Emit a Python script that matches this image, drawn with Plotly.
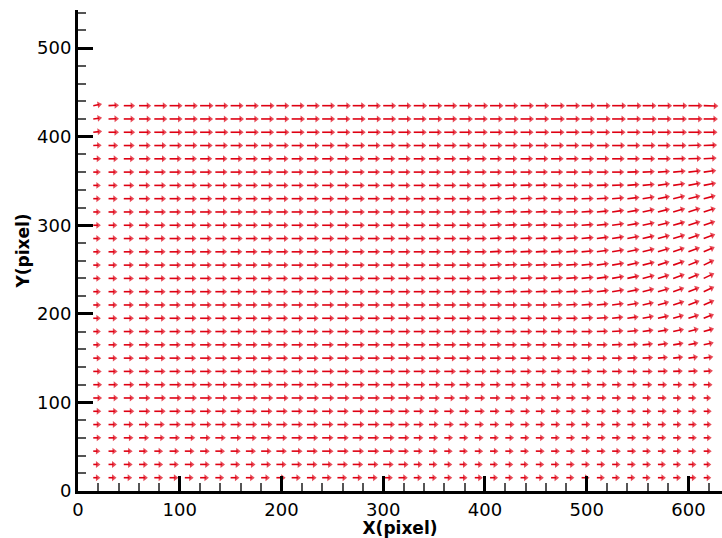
import plotly.graph_objects as go

# grid positions (pixel coordinates of the vector tails)
x_cols = [15, 30, 45, 60, 75, 90, 105, 120, 135, 150, 165, 180, 195, 210, 225, 240, 255, 270, 285, 300,
          315, 330, 345, 360, 375, 390, 405, 420, 435, 450, 465, 480, 495, 510, 525, 540, 555, 570, 585, 600, 615]
y_rows = [435, 420, 405, 390, 375, 360, 345, 330, 315, 300, 285, 270, 255, 240, 225,
          210, 195, 180, 165, 150, 135, 120, 105, 90, 75, 60, 45, 30, 15]

# horizontal displacement, one list per row (top row first)
U = [
    [7,9,10,11,12,12,12,12.5,12,12, 12,12.5,12,12,12,12,12.5,12,12,12, 12,12.5,12.5,12,12,12.5,12.5,12,12.5,12.5, 13,13,13,13,13.5,13.5,13,13.5,13.5,13.5, 14],
    [7,9,10,11,12,12,12,12,12,12.5, 12,12,12,12.5,12,12,12,12,12.5,12, 12,12,12.5,12,12.5,12,12,12.5,12.5,12.5, 13,13,12.5,13,13,13,13.5,13,13,13.5, 13.5],
    [7,9,10,11,11.5,12,12,12,12,12, 12,12,12,12,12,12,12,12,12,12, 12,12,12,12,12,12,12,12,12,12.5, 12.5,12.5,12.5,12.5,12.5,12.5,13,13,13,13, 13],
    [6.5,8,9.5,10.5,11,11.5,11.5,11.5,11.5,11.5, 11.5,11.5,11.5,11.5,11.5,11.5,11.5,11.5,11.5,11.5, 11.5,11.5,11.5,11.5,11.5,11.5,11.5,11.5,12,12, 12,12,12,12,12,12,12,12,12.5,12.5, 12.5],
    [6,8,9.5,10.5,11,11,11,11,11,11, 11,11,11,11,11,11,11,11,11,11, 11,11,11,11,11,11,11,11,11.5,11.5, 11.5,11.5,11.5,11.5,11.5,11.5,11.5,12,12,12, 12],
    [5.5,7.5,9,10,10.5,11,11,11,11,11, 11,11,11,11,11,11,11,11,11,11, 11,11,11,11,11,11,11,11,11,11, 11,11,11,11,11,11,11,11,11.5,11.5, 11.5],
    [5.5,7.5,9,10,10.5,11,11,11,11,11, 11,11,11,11,11,11,11,11,11,11, 11,11,11,11,11,11,11,11,11,11, 11,11,11,11,11,11,11,11,11,11.5, 11.5],
    [5.5,7.5,9,10,10.5,10.5,11,11,11,11, 11,11,11,11,11,11,11,11,11,11, 11,11,11,11,11,11,11,11,11,11, 11,11,11,11,11,11,11,11,11,11, 11],
    [5.5,7,8.5,10,10.5,10.5,10.5,11,11,11, 11,11,11,11,11,11,11,11,11,11, 11,11,11,11,11,11,11,11,11,11, 11,11,11,11,11,11,11,11,11,11, 11],
    [5.5,7,8.5,9.5,10,10.5,10.5,10.5,11,11, 11,11,11,11,11,11,11,11,11,11, 11,11,11,11,11,11,11,11,11,11, 11,11,11,11,11,11,11,11,11,11, 10.5],
    [5.5,7,8.5,9.5,10,10.5,10.5,10.5,10.5,11, 11,11,11,11,11,11,11,11,11,11, 11,11,11,11,11,11,11,11,11,11, 11,11,11,11,11,11,11,11,11,10.5, 10.5],
    [5.5,7,8.5,9.5,10,10.5,10.5,10.5,10.5,10.5, 10.5,11,11,11,11,11,11,11,11,11, 11,11,11,11,11,11,11,11,11,11, 11,11,11,11,11,11,11,11,10.5,10.5, 10],
    [5.5,7,8.5,9.5,10,10.5,10.5,10.5,10.5,10.5, 10.5,10.5,11,11,11,11,11,11,11,11, 11,11,11,11,11,11,11,11,11,11, 11,11,11,11,11,11,11,10.5,10.5,10, 9.5],
    [5.5,7,8.5,9.5,10,10.5,10.5,10.5,10.5,10.5, 10.5,10.5,10.5,11,11,11,11,11,11,11, 11,11,11,11,11,11,11,11,11,11, 11,11,11,11,11,11,11,10.5,10.5,10, 9.5],
    [5.5,7,8.5,9.5,10,10.5,10.5,10.5,10.5,10.5, 10.5,10.5,10.5,11,11,11,11,11,11,11, 11,11,11,11,11,11,11,11,11,11, 11,11,11,11,11,11,10.5,10.5,10,10, 9.5],
    [5.5,7,8.5,9.5,10,10,10.5,10.5,10.5,10.5, 10.5,10.5,10.5,10.5,11,11,11,11,11,11, 11,11,11,11,11,11,11,11,10.5,10.5, 10.5,10.5,10.5,10.5,10.5,10.5,10,10,10,10, 9.5],
    [5.5,7,8.5,9.5,10,10,10.5,10.5,10.5,10.5, 10.5,10.5,10.5,10.5,10.5,11,11,11,11,11, 11,11,11,11,11,11,11,10.5,10.5,10.5, 10.5,10.5,10.5,10.5,10,10,10,10,9.5,9.5, 9],
    [5.5,7,8.5,9.5,10,10,10,10.5,10.5,10.5, 10.5,10.5,10.5,10.5,10.5,10.5,11,11,11,11, 11,11,11,11,11,11,10.5,10.5,10.5,10.5, 10,10,10,10,10,10,9.5,9.5,9.5,9, 9],
    [5.5,7,8.5,9.5,10,10,10,10.5,10.5,10.5, 10.5,10.5,10.5,10.5,10.5,10.5,11,11,11,11, 11,11,11,11,11,10.5,10.5,10.5,10,10, 10,10,9.5,9.5,9.5,9.5,9,9,9,8.5, 8.5],
    [6,7,8.5,9.5,10,10,10,10.5,10.5,10.5, 10.5,10.5,10.5,10.5,10.5,10.5,11,11,11,11, 11,11,11,11,10.5,10.5,10.5,10,10,10, 9.5,9.5,9.5,9,9,9,9,8.5,8.5,8, 8],
    [6.5,7.5,8.5,9.5,10,10,10.5,10.5,10.5,10.5, 10.5,10.5,10.5,10.5,10.5,11,11,11,11,11, 11,11,10.5,10.5,10.5,10.5,10,10,10,9.5, 9.5,9.5,9,9,9,8.5,8.5,8.5,8,8, 7.5],
    [7,8,9,10,10,11,11,11,11,11, 11,11,11,11,11,11,11,11,11,11, 11,10.5,10,10,10,9.5,9.5,9.5,9,9, 9,8.5,8.5,8.5,8,8,8,7.5,7.5,7, 7],
    [7,8,9,10,10.5,11,11,11,11,11, 11,11,11,11,11,11,11,11,11,11, 11,10,9.5,9.5,9,9,9,9,8.5,8.5, 8.5,8,8,8,7.5,7.5,7,7,6.5,6, 5.5],
    [6,7.5,9,10,10,10,10,10,10,10, 10,10,10,10,10,10,10,10.5,10.5,10.5, 10,9,8.5,8.5,8.5,8.5,8,8,8,8, 8,8,7.5,7.5,7.5,7,7,7,6.5,6.5, 6],
    [6,7,8,9,9,10,10,10,10,10, 10,10,10,10,10,10,10,10.5,10.5,10.5, 10,8.5,8,8,8,7.5,7.5,7.5,7.5,7.5, 7.5,7.5,7,7,7,7,7,6.5,6.5,6.5, 6],
    [6,7,8,8.5,9,9,9,9,9,9.5, 9.5,9.5,9.5,10,10,10,10,10,10,10, 9.5,8,7.5,7,7,7,7,7,7,7, 7,7,7,7,7,7,6.5,6.5,6.5,6.5, 6],
    [5,6.5,7,7,7,8,8,8,8,8.5, 8.5,9,9,9.5,9.5,10,10,10,10,10, 9,7.5,7,6.5,6.5,6.5,6.5,6.5,6.5,7, 7,7,7,7,7,7,6.5,6.5,6.5,6, 6],
    [5,6,7,7,7,7.5,8,8,8,8, 8,8.5,8.5,9,9,9,9,9,9,9, 8.5,7,6.5,6,6,6,6,6,6,6.5, 6.5,6.5,6.5,6.5,6.5,6.5,6.5,6,6,6, 5.5],
    [5,6,6.5,7,7,7,7,7,7,7, 7,7,7.5,7.5,8,8,8,8,8,8, 7.5,6.5,6,6,6,6,6,6,6,6, 6,6,6,6,6,6,6,6,6,6, 5.5],
]

# vertical displacement, one list per row (top row first)
V = [
    [1.5,0.5,0,0,0,0,0,0,0,0, 0,0,0,0,0,0,0,0,0,0, 0,0,0,0,0,0,0,0,0,0, 0,0,0,0,0,0,0,0,0,0, -0.5],
    [1.0,0.3,0,0,0,0,0,0,0,0, 0,0,0,0,0,0,0,0,0,0, 0,0,0,0,0,0,0,0,0,0, 0,0,0,0,0,0,0,0,0,0, 0],
    [0.8,0,0,0,0,0,0,0,0,0, 0,0,0,0,0,0,0,0,0,0, 0,0,0,0,0,0,0,0,0,0, 0,0,0,0,0,0,0,0,0,0, 0],
    [0.3,0,0,0,0,0,0,0,0,0, 0,0,0,0,0,0,0,0,0,0, 0,0,0,0,0,0,0,0,0,0, 0,0,0,0,0,0,0,0,0,0.3, 0.5],
    [0,0,0,0,0,0,0,0,0,0, 0,0,0,0,0,0,0,0,0,0, 0,0,0,0,0,0,0,0,0,0, 0,0,0,0,0,0,0,0,0.3,0.5, 0.8],
    [0,0,0,0,0,0,0,0,0,0, 0,0,0,0,0,0,0,0,0,0, 0,0,0,0,0,0,0,0,0,0, 0,0,0,0,0,0.3,0.5,0.8,1.2,1.5, 1.8],
    [0,0,0,0,0,0,0,0,0,0, 0,0,0,0,0,0,0,0,0,0, 0,0,0,0,0,0,0.4,0.4,0.4,0.4, 0,0,0,0.3,0.5,1,1.3,1.8,2,2.5, 2.5],
    [0,0,0,0,0,0,0,0,0,0, 0,0,0,0,0,0,0,0,0,0, 0,0,0,0,0,0,0.5,0.5,0.5,0.5, 0,0,0.3,0.6,1,1.5,2,2.5,3,3, 3.2],
    [0,0,0,0,0,0,0,0,0,0, 0,0,0,0,0,0,0,0,0,0, 0,0,0,0,0,0,0.5,0.5,0.5,0.5, 0,0.4,0.8,1.2,1.8,2.2,2.8,3.2,3.6,4, 4],
    [0,0,0,0,0,0,0,0,0,0, 0,0,0,0,0,0,0,0,0,0, 0,0,0,0,0,0,0.5,0.5,0.5,0.5, 0,0.4,0.8,1.2,1.8,2.2,2.8,3.2,3.6,4, 4.2],
    [0,0,0,0,0,0,0,0,0,0, 0,0,0,0,0,0,0,0,0,0, 0,0,0,0,0,0,0.6,0.6,0.6,0.6, 0.6,0.8,1.2,1.6,2,2.5,3,3.5,4,4.3, 4.5],
    [0,0,0,0,0,0,0,0,0,0, 0,0,0,0,0,0,0,0,0,0, 0,0,0,0,0,0,0.6,0.6,0.6,0.6, 0.6,0.8,1.2,1.8,2.2,2.8,3.3,3.8,4.2,4.6, 5],
    [0,0,0,0,0,0,0,0,0,0, 0,0,0,0,0,0,0,0,0,0, 0,0,0,0,0,0,0.6,0.6,0.6,0.6, 0.6,0.8,1.2,1.8,2.2,2.8,3.3,3.8,4.2,4.6, 5.2],
    [0,0,0,0,0,0,0,0,0,0, 0,0,0,0,0,0,0,0,0,0, 0,0,0,0,0,0,0.6,0.6,0.6,0.6, 0.6,0.8,1.2,1.8,2.2,2.8,3.3,3.8,4.2,4.6, 5.2],
    [0,0,0,0,0,0,0,0,0,0, 0,0,0,0,0,0,0,0,0,0, 0,0,0,0,0,0,0,0.5,0.5,0.5, 0.5,0.5,1,1.5,2,2.5,3,3.5,4,4.5, 5],
    [0,0,0,0,0,0,0,0,0,0, 0,0,0,0,0,0,0,0,0,0, 0,0,0,0,0,0,0,0,0,0, 0.3,0.6,0.8,1.2,1.6,2,2.6,3.2,3.8,4.4, 4.8],
    [0,0,0,0,0,0,0,0,0,0, 0,0,0,0,0,0,0,0,0,0, 0,0,0,0,0,0,0,0,0,0, 0,0,0.5,0.8,1.2,1.6,2.2,2.6,3.2,3.6, 4],
    [0,0,0,0,0,0,0,0,0,0, 0,0,0,0,0,0,0,0,0,0, 0,0,0,0,0,0,0,0,0,0, 0,0,0,0.4,0.8,1.2,1.6,2,2.4,2.8, 3],
    [0,0,0,0,0,0,0,0,0,0, 0,0,0,0,0,0,0,0,0,0, 0,0,0,0,0,0,0,0,0,0, 0,0,0,0,0.4,0.7,1,1.4,1.7,2, 2.2],
    [0,0,0,0,0,0,0,0,0,0, 0,0,0,0,0,0,0,0,0,0, 0,0,0,0,0,0,0,0,0,0, 0,0,0,0,0,0.3,0.5,0.8,1,1.2, 1.3],
    [0,0,0,0,0,0,0,0,0,0, 0,0,0,0,0,0,0,0,0,0, 0,0,0,0,0,0,0,0,0,0, 0,0,0,0,0,0,0,0.3,0.4,0.5, 0.6],
    [0,0,0,0,0,0,0,0,0,0, 0,0,0,0,0,0,0,0,0,0, 0,0,0,0,0,0,0,0,0,0, 0,0,0,0,0,0,0,0,0,0, 0],
    [0,0,0,0,0,0,0,0,0,0, 0,0,0,0,0,0,0,0,0,0, 0,0,0,0,0,0,0,0,0,0, 0,0,0,0,0,0,0,0,0,0, 0],
    [0,0,0,0,0,0,0,0,0,0, 0,0,0,0,0,0,0,0,0,0, 0,0,0,0,0,0,0,0,0,0, 0,0,0,0,0,0,0,0,0,0, 0],
    [0,0,0,0,0,0,0,0,0,0, 0,0,0,0,0,0,0,0,0,0, 0,0,0,0,0,0,0,0,0,0, 0,0,0,0,0,0,0,0,0,0, 0],
    [0,0,0,0,0,0,0,0,0,0, 0,0,0,0,0,0,0,0,0,0, 0,0,0,0,0,0,0,0,0,0, 0,0,0,0,0,0,0,0,0,0, 0],
    [0,0,0,0,0,0,0,0,0,0, 0,0,0,0,0,0,0,0,0,0, 0,0,0,0,0,0,0,0,0,0, 0,0,0,0,0,0,0,0,0,0, 0],
    [0,0,0,0,0,0,0,0,0,0, 0,0,0,0,0,0,0,0,0,0, 0,0,0,0,0,0,0,0,0,0, 0,0,0,0,0,0,0,0,0,0, 0],
    [0,0,0,0,0,0,0,0,0,0, 0,0,0,0,0,0,0,0,0,0, 0,0,0,0,0,0,0,0,0,0, 0,0,0,0,0,0,0,0,0,0, 0],
]

x_ticks = [0, 100, 200, 300, 400, 500, 600]
y_ticks = [0, 100, 200, 300, 400, 500]

assert len(U) == len(y_rows) and len(V) == len(y_rows)
for i in range(len(y_rows)):
    assert len(U[i]) == len(x_cols), ("U", i, len(U[i]))
    assert len(V[i]) == len(x_cols), ("V", i, len(V[i]))

RED = "rgb(222,0,18)"
SCALE = 0.82
HEAD = 6

xs, ys, sizes = [], [], []
for r, y0 in enumerate(y_rows):
    for c, x0 in enumerate(x_cols):
        u = U[r][c]
        v = V[r][c]
        xs += [x0, x0 + u * SCALE, None]
        ys += [y0, y0 + v * SCALE, None]
        sizes += [0, HEAD, 0]

fig = go.Figure()
fig.add_trace(go.Scatter(
    x=xs, y=ys, mode="lines+markers",
    line=dict(color=RED, width=1.6),
    marker=dict(symbol="triangle-up", size=sizes, color=RED,
                angleref="previous", line=dict(width=0)),
    hoverinfo="skip", showlegend=False,
))

font_ticks = dict(family="DejaVu Sans", size=18, color="black")
font_title = dict(family="DejaVu Sans", size=17, color="black")

fig.update_layout(
    width=722, height=538,
    margin=dict(l=78, r=0, t=10, b=47, autoexpand=False),
    paper_bgcolor="white", plot_bgcolor="white",
    showlegend=False,
    xaxis=dict(
        range=[0, 633], tickmode="array", tickvals=x_ticks,
        ticktext=[str(t) for t in x_ticks],
        ticks="inside", ticklen=15, tickwidth=3, tickcolor="black",
        minor=dict(tickmode="linear", tick0=0, dtick=20, ticks="inside",
                   ticklen=8, tickwidth=1.5, tickcolor="#555555", showgrid=False),
        showline=True, linewidth=3, linecolor="black",
        showgrid=False, zeroline=False,
        tickfont=font_ticks, automargin=False,
        title=dict(text="<b>X(pixel)</b>", font=font_title, standoff=2),
    ),
    yaxis=dict(
        range=[0, 543], tickmode="array", tickvals=y_ticks,
        ticktext=[str(t) for t in y_ticks],
        ticks="inside", ticklen=15, tickwidth=3, tickcolor="black",
        minor=dict(tickmode="linear", tick0=0, dtick=20, ticks="inside",
                   ticklen=8, tickwidth=1.5, tickcolor="#555555", showgrid=False),
        showline=True, linewidth=3, linecolor="black",
        showgrid=False, zeroline=False,
        tickfont=font_ticks, automargin=False,
        title=dict(text="<b>Y(pixel)</b>", font=font_title, standoff=4),
    ),
)

fig.write_html(
    "out.html",
    config={"displayModeBar": False},
    post_script="document.body.style.margin='0px';document.body.style.overflow='hidden';",
)
